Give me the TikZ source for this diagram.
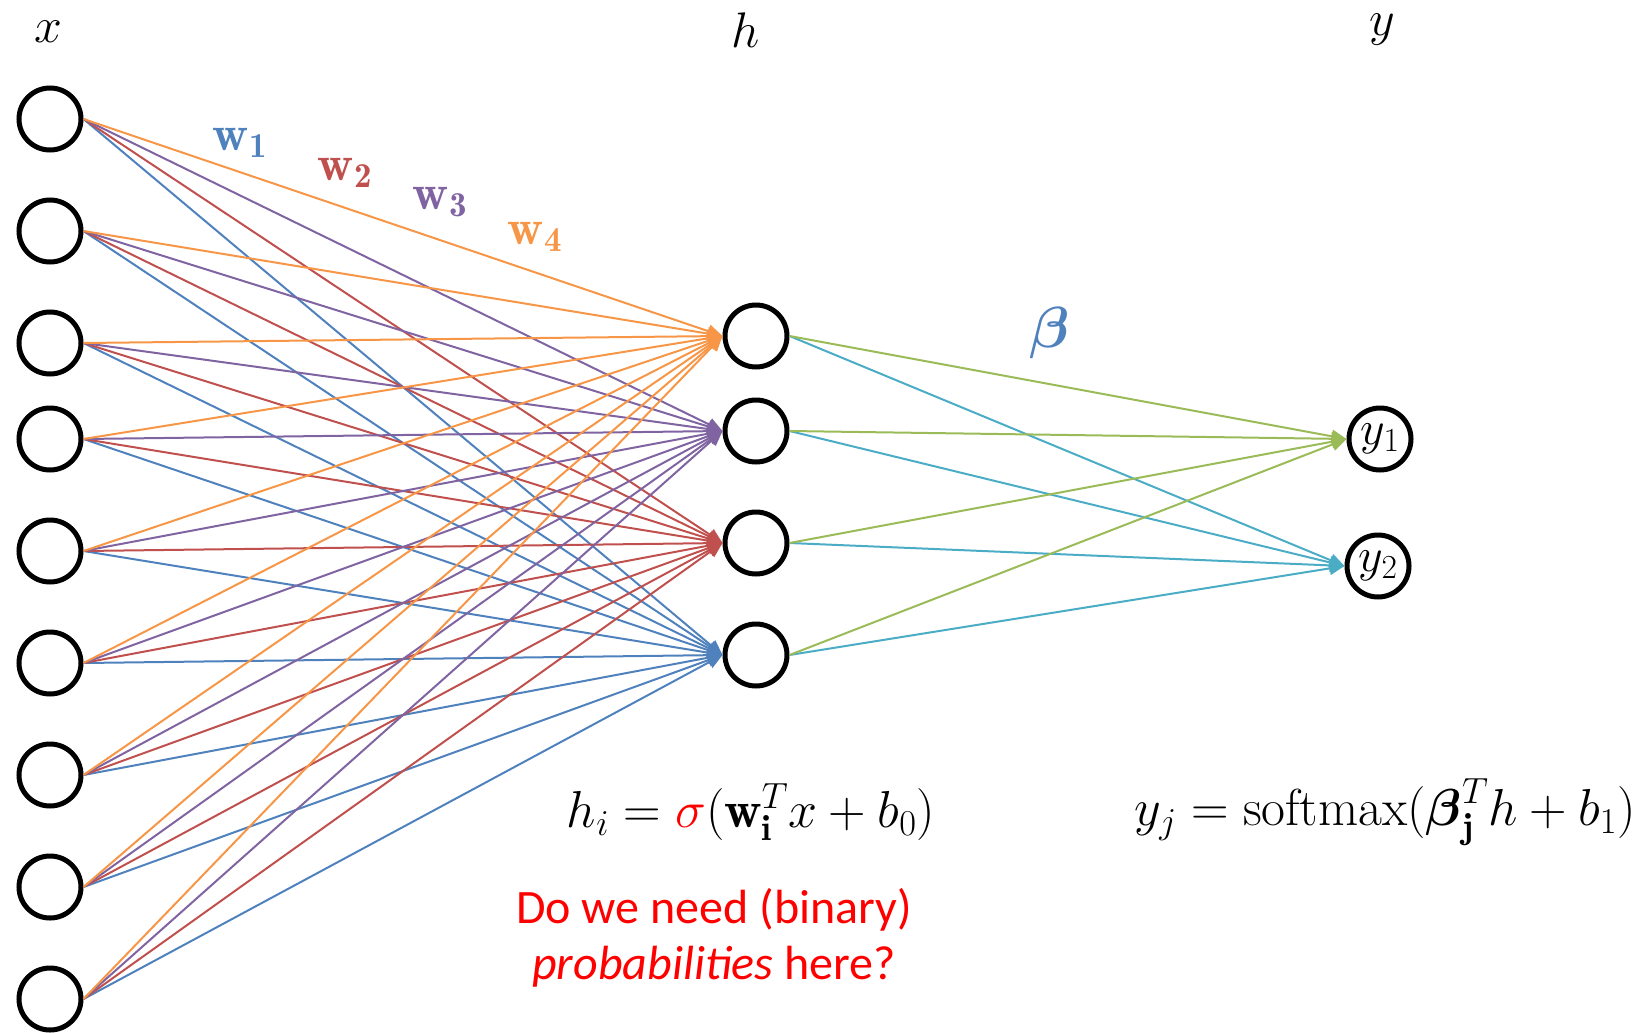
\RequirePackage{fix-cm}
\documentclass[tikz,border=0pt]{standalone}
\usepackage{amsmath}
\usepackage{fontspec}
\newfontfamily\carlito{Carlito}
\usetikzlibrary{arrows.meta}
\definecolor{cOr}{HTML}{F79646}
\definecolor{cPu}{HTML}{8064A2}
\definecolor{cRe}{HTML}{C0504D}
\definecolor{cBl}{HTML}{4F81BD}
\definecolor{cGr}{HTML}{9BBB59}
\definecolor{cTe}{HTML}{4BACC6}
\begin{document}
\begin{tikzpicture}[x=1pt,y=-1pt,
  neuron/.style={circle, draw=black, line width=5pt, minimum size=62pt, inner sep=0pt, font=\fontsize{48}{54}\selectfont},
  conn/.style={line width=2pt, -{Triangle[length=15pt,width=13pt]}},
  lbl/.style={font=\fontsize{50}{56}\selectfont, inner sep=0pt},
  wlbl/.style={font=\fontsize{50}{56}\selectfont, inner sep=0pt},
  eqn/.style={font=\fontsize{52}{58}\selectfont, inner sep=0pt},
  note/.style={font=\carlito\fontsize{48}{56}\selectfont, text=red, align=center, inner sep=0pt}]
\useasboundingbox (0,0) rectangle (1649,1033);
\foreach \i/\yy in {1/119,2/231,3/343,4/439,5/551,6/663,7/775,8/887,9/999}
  \node[neuron] (x\i) at (50,\yy) {};
\foreach \j/\yy in {1/336,2/431,3/543,4/655}
  \node[neuron] (h\j) at (756,\yy) {};
\node[neuron] (o1) at (1380,439) {$y_1$};
\node[neuron] (o2) at (1378,566) {$y_2$};
\foreach \i in {1,...,9} {
  \draw[conn,cBl] (x\i.east) -- (h4.west);
  \draw[conn,cRe] (x\i.east) -- (h3.west);
  \draw[conn,cPu] (x\i.east) -- (h2.west);
  \draw[conn,cOr] (x\i.east) -- (h1.west);
}
\foreach \j in {1,...,4} {
  \draw[conn,cTe] (h\j.east) -- (o2.west);
  \draw[conn,cGr] (h\j.east) -- (o1.west);
}
\node[lbl] (lx) at (48,32) {$x$};
\node[lbl] (lh) at (746,30) {$h$};
\node[lbl] (ly) at (1382,30) {$y$};
\node[wlbl,text=cBl] (w1) at (240,143) {$\mathbf{w_1}$};
\node[wlbl,text=cRe] (w2) at (345,173) {$\mathbf{w_2}$};
\node[wlbl,text=cPu] (w3) at (440,202) {$\mathbf{w_3}$};
\node[wlbl,text=cOr] (w4) at (535,237) {$\mathbf{w_4}$};
\node[font=\fontsize{58}{64}\selectfont, inner sep=0pt, text=cBl] (beta) at (1050,333) {$\boldsymbol{\beta}$};
\node[eqn] (eqh) at (751,812) {$h_i = {\color{red}\sigma}(\mathbf{w}_{\mathbf{i}}^T x + b_0)$};
\node[eqn] (eqy) at (1385,812) {$y_j = \mathrm{softmax}(\boldsymbol{\beta}_{\mathbf{j}}^T h + b_1)$};
\node[note] (q) at (714,938) {Do we need (binary)\\\textit{probabilities} here?};
\end{tikzpicture}
\end{document}
